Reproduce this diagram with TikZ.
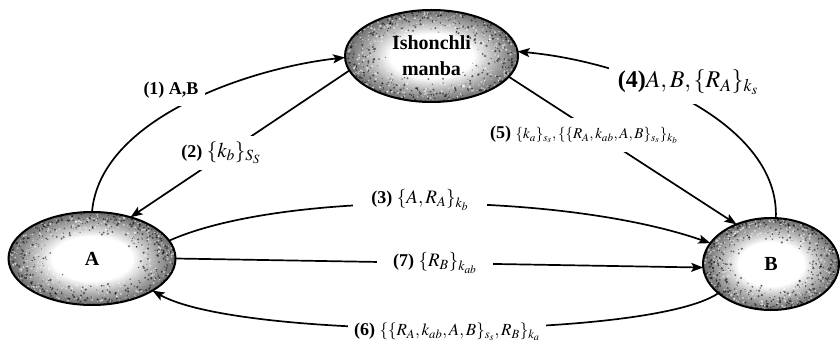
\documentclass[tikz,border=0pt]{standalone}
\usepackage{mathptmx}
\usepackage{fontspec}
\setmainfont{Liberation Serif}
\usetikzlibrary{shapes.geometric,arrows.meta}
\pgfdeclareradialshading{grain}{\pgfpoint{0bp}{0bp}}{color(0bp)=(white); color(12bp)=(white); color(18bp)=(black!28); color(23bp)=(black!50); color(25bp)=(black!58); color(50bp)=(black!58)}
\newcommand\blob[4]{%
  \shade[shading=grain] (#1,#2) ellipse [x radius=#3, y radius=#4];
  \begin{scope}
    \clip (#1,#2) ellipse [x radius=#3, y radius=#4];
    \foreach \i in {1,...,900}{%
      \pgfmathsetmacro\ang{360*rnd}%
      \pgfmathsetmacro\rad{0.48+0.55*sqrt(rnd)}%
      \pgfmathsetmacro\sz{0.4+0.9*rnd}%
      \pgfmathsetmacro\sh{rnd>0.45?100:0}%
      \fill[black!\sh, opacity=0.55] ({#1+#3*\rad*cos(\ang)},{#2+#4*\rad*sin(\ang)}) circle (\sz pt);
    }
  \end{scope}}
\begin{document}
\begin{tikzpicture}[x=1pt,y=1pt,
  ell/.style={ellipse, draw=black, line width=2pt, inner sep=0pt, outer sep=0pt, font=\bfseries\fontsize{20}{26}\selectfont, align=center},
  ar/.style={line width=1.7pt, -{Stealth[length=12pt,width=9pt,inset=2.5pt]}},
  lab/.style={fill=white, inner xsep=6pt, inner ysep=6pt, font=\fontsize{18}{20}\selectfont}]
\useasboundingbox (0,0) rectangle (840,348);
\pgfmathsetseed{11}
\blob{431.5}{292}{86.5}{46}
\blob{92}{89.5}{83.5}{46.5}
\blob{771}{84}{68}{46}
\node[ell, minimum width=173pt, minimum height=92pt] (S) at (431.5,292) {Ishonchli\\manba};
\node[ell, minimum width=167pt, minimum height=93pt] (A) at (92,89.5) {A};
\node[ell, minimum width=136pt, minimum height=92pt] (B) at (771,84) {B};
% connectors
\draw[ar] (A.90) .. controls (100,230) and (250,280) .. (S.181);
\draw[ar] (S.190) -- (A.47);
\draw[ar] (A.13) .. controls (280,157) and (560,157) .. (B.161);
\draw[ar] (A.east) -- (B.183);
\draw[ar] (B.209) .. controls (650,8) and (240,8) .. (A.332);
\draw[ar] (S.345) -- (B.131);
\draw[ar] (B.84) .. controls (780,222) and (640,285) .. (S.3);
% labels
\node[lab, inner xsep=7pt, inner ysep=7pt] (l1) at (171,257.5) {\textbf{(1) A,B}};
\node[lab] (l2) at (221,195) {\textbf{(2)} {\fontsize{21}{23}\selectfont$\{k_b\}_{S_S}$}};
\node[lab, inner xsep=18pt] (l3) at (420,148) {\textbf{(3)} {\fontsize{19}{21}\selectfont$\{A,R_A\}_{k_b}$}};
\node[lab, inner xsep=16pt] (l7) at (435,85) {\textbf{(7)} {\fontsize{19}{21}\selectfont$\{R_B\}_{k_{ab}}$}};
\node[lab, inner ysep=3pt] (l6) at (447,16) {\textbf{(6)} {\fontsize{17}{19}\selectfont$\{\{R_A,k_{ab},A,B\}_{s_s},R_B\}_{k_a}$}};
\node[lab, inner ysep=8pt] (l5) at (584,213) {\textbf{(5)} {\fontsize{15}{17}\selectfont$\{k_a\}_{s_s},\{\{R_A,k_{ab},A,B\}_{s_s}\}_{k_b}$}};
\node[lab, font=\fontsize{24}{27}\selectfont, inner xsep=9pt, inner ysep=10pt] (l4) at (688,266) {\textbf{(4)}$A,B,\{R_A\}_{k_s}$};
\end{tikzpicture}
\end{document}
